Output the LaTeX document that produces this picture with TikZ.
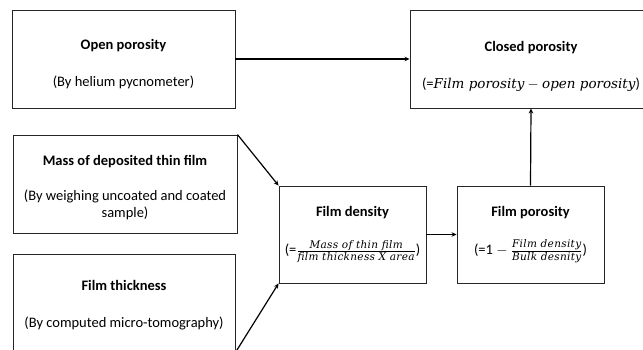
\documentclass[tikz,border=0pt]{standalone}
\usepackage{fontspec}
\setmainfont{Carlito}
\newfontfamily\eqfont{DejaVu Serif}[LetterSpace=3]
\newfontfamily\eqwide{DejaVu Serif}
\usetikzlibrary{arrows.meta}

\newcommand{\eqtxt}[1]{{\fontsize{13.5}{17}\selectfont\eqwide\itshape #1}}
\newcommand{\eqsmall}[1]{\hbox{\fontsize{10.5}{12}\selectfont\eqfont\itshape #1}}
\newcommand{\eqfrac}[2]{\frac{\eqsmall{#1}\rule[-2pt]{0pt}{2pt}}{\rule{0pt}{9pt}\eqsmall{#2}}}
\newcommand{\topgap}[1]{\rule{0pt}{#1}}

\begin{document}
\begin{tikzpicture}[x=1pt,y=-1pt,
  box/.style={draw=black!85,line width=0.9pt,align=center,inner sep=0pt,
    font=\fontsize{14.5}{17}\selectfont},
  link/.style={line width=1.2pt,-{Stealth[length=5pt,width=4.5pt]}}]
\useasboundingbox (0,0) rectangle (643,350);
\fill[white] (0,0) rectangle (643,350);

% input boxes on the left
\node[box,minimum width=223pt,minimum height=98pt] (open) at (123.5,59)
  {\topgap{21pt}\textbf{Open porosity}\\[20pt](By helium pycnometer)};
\node[box,minimum width=224pt,minimum height=98pt] (mass) at (125,184)
  {\topgap{18pt}\textbf{Mass of deposited thin film}\\[18pt](By weighing uncoated and coated\\sample)};
\node[box,minimum width=222pt,minimum height=98pt] (thick) at (124,303)
  {\topgap{15pt}\textbf{Film thickness}\\[20pt](By computed micro-tomography)};

% derived quantities
\node[box,minimum width=147pt,minimum height=97pt] (dens) at (352.5,234.5)
  {\textbf{Film density}\\[21pt](=$\eqfrac{Mass of thin film}{film thickness X area}$)};
\node[box,minimum width=147pt,minimum height=97pt] (poro) at (530.5,234.5)
  {\textbf{Film porosity}\\[21pt](=1 $-$ $\eqfrac{Film density}{Bulk desnity}$)};
\node[box,minimum width=242pt,minimum height=98pt] (closed) at (531,59)
  {\topgap{25pt}\textbf{Closed porosity}\\[20pt](=\eqtxt{Film porosity} $-$ \eqtxt{open porosity})};

% connectors
\draw[link] (open.east) -- (closed.west);
\draw[link] (mass.north east) -- (dens.north west);
\draw[link] (thick.south east) -- (dens.south west);
\draw[link] (dens.east) -- (poro.west);
\draw[link] (poro.north) -- (closed.south);
\end{tikzpicture}
\end{document}
